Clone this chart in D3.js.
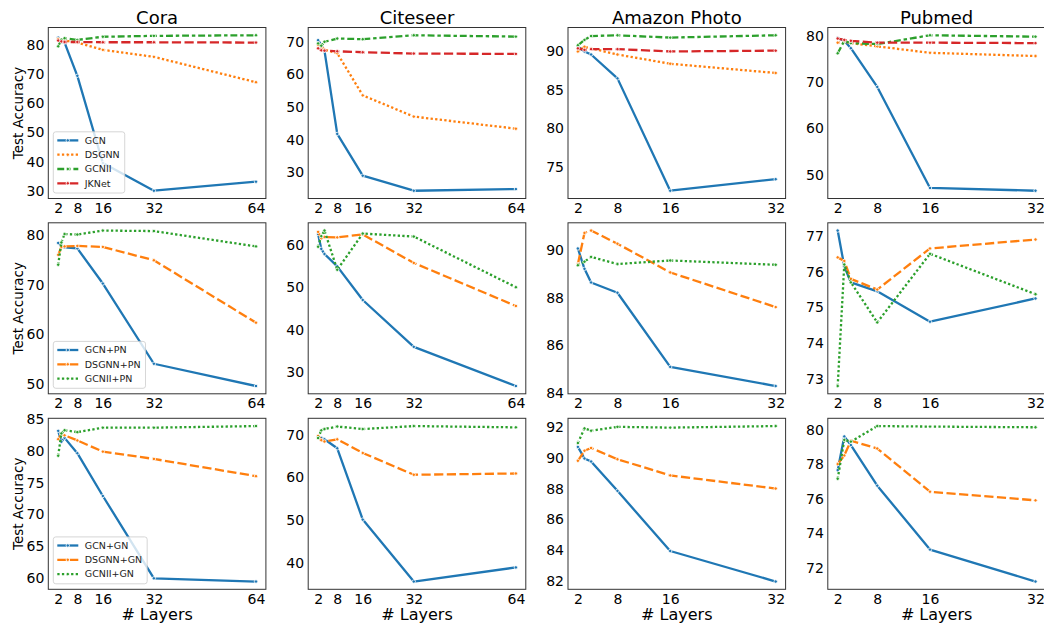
<!DOCTYPE html>
<html>
<head>
<meta charset="utf-8">
<script src="https://cdn.jsdelivr.net/npm/d3@7"></script>
<style>
  body { margin: 0; background: #fff; }
  svg { display: block; }
</style>
</head>
<body>
<svg id="chart" width="1044" height="623"></svg>
<script>
// x values (number of layers) and tick labels
const layersLong  = [2, 3, 4, 8, 16, 32, 64];
const layersShort = [2, 3, 4, 8, 16, 32];
const xTicksLong  = [2, 8, 16, 32, 64];
const xTicksShort = [2, 8, 16, 32];
const datasets = ['Cora', 'Citeseer', 'Amazon Photo', 'Pubmed'];

const baseNames = ['GCN', 'DSGNN', 'GCNII', 'JKNet'];
const pnNames   = ['GCN+PN', 'DSGNN+PN', 'GCNII+PN'];
const gnNames   = ['GCN+GN', 'DSGNN+GN', 'GCNII+GN'];

// ── row 1: plain models ──
const coraGCN   = [82.5, 81.0, 80.8, 69.4, 39.5, 30.0, 33.1];
const coraDSGNN = [82.0, 81.8, 81.5, 80.8, 78.3, 75.9, 67.2];
const coraGCNII = [79.5, 81.8, 82.3, 81.7, 82.8, 83.1, 83.3];
const coraJKNet = [81.5, 81.2, 81.0, 81.0, 80.9, 80.9, 80.8];

const citeGCN   = [70.5, 69.0, 67.3, 41.8, 29.0, 24.4, 24.9];
const citeDSGNN = [69.0, 68.5, 67.6, 66.5, 53.6, 47.1, 43.4];
const citeGCNII = [69.5, 68.8, 70.0, 71.0, 70.8, 72.0, 71.6];
const citeJKNet = [68.0, 67.4, 67.3, 67.1, 66.8, 66.4, 66.3];

const photoGCN   = [90.6, 90.0, 89.6, 86.5, 71.9, 73.4];
const photoDSGNN = [90.0, 90.6, 90.4, 89.6, 88.4, 87.2];
const photoGCNII = [90.8, 91.5, 92.0, 92.1, 91.8, 92.1];
const photoJKNet = [90.4, 90.2, 90.3, 90.3, 90.0, 90.1];

const pubGCN   = [79.6, 79.0, 77.4, 69.0, 47.1, 46.5];
const pubDSGNN = [78.6, 78.8, 78.5, 77.8, 76.4, 75.7];
const pubGCNII = [76.3, 79.0, 78.5, 78.3, 80.2, 79.9];
const pubJKNet = [79.5, 79.2, 79.0, 78.6, 78.6, 78.5];

// ── row 2: + PairNorm ──
const coraGCNpn   = [78.4, 77.8, 77.5, 77.3, 70.2, 54.0, 49.5];
const coraDSGNNpn = [76.0, 77.6, 77.7, 77.8, 77.6, 74.9, 62.3];
const coraGCNIIpn = [74.0, 78.5, 80.2, 80.1, 80.9, 80.8, 77.7];

const citeGCNpn   = [62.5, 59.0, 57.8, 54.9, 47.0, 36.0, 26.8];
const citeDSGNNpn = [63.0, 61.5, 61.8, 61.7, 62.4, 55.7, 45.6];
const citeGCNIIpn = [59.5, 62.0, 63.3, 54.1, 62.6, 61.9, 50.0];

const photoGCNpn   = [90.05, 89.2, 88.63, 88.2, 85.1, 84.3];
const photoDSGNNpn = [89.4, 90.7, 90.8, 90.25, 89.05, 87.6];
const photoGCNIIpn = [89.35, 89.5, 89.7, 89.4, 89.55, 89.37];

const pubGCNpn   = [77.15, 76.15, 75.7, 75.45, 74.6, 75.25];
const pubDSGNNpn = [76.4, 76.3, 75.8, 75.5, 76.65, 76.9];
const pubGCNIIpn = [72.8, 76.2, 75.7, 74.58, 76.5, 75.37];

// ── row 3: + GroupNorm ──
const coraGCNgn   = [83.1, 81.4, 82.0, 79.6, 72.9, 60.0, 59.5];
const coraDSGNNgn = [81.8, 82.6, 82.4, 81.6, 79.85, 78.7, 76.0];
const coraGCNIIgn = [79.2, 82.7, 83.2, 82.9, 83.6, 83.6, 83.85];

const citeGCNgn   = [69.5, 69.2, 68.9, 66.8, 50.1, 35.6, 38.9];
const citeDSGNNgn = [69.7, 68.7, 68.4, 68.9, 65.7, 60.6, 60.9];
const citeGCNIIgn = [69.2, 71.0, 71.3, 71.9, 71.3, 72.0, 71.7];

const photoGCNgn   = [90.7, 89.95, 89.75, 87.85, 83.95, 81.97];
const photoDSGNNgn = [89.8, 90.45, 90.63, 89.9, 88.85, 88.0];
const photoGCNIIgn = [90.95, 91.9, 91.75, 92.0, 91.95, 92.05];

const pubGCNgn   = [77.65, 79.6, 79.1, 76.75, 73.05, 71.2];
const pubDSGNNgn = [78.0, 78.5, 79.35, 78.9, 76.4, 75.9];
const pubGCNIIgn = [77.15, 79.4, 79.3, 80.2, 80.17, 80.13];

// y tick labels per panel
const yTicks = [
  [[30, 40, 50, 60, 70, 80], [30, 40, 50, 60, 70], [75, 80, 85, 90], [50, 60, 70, 80]],
  [[50, 60, 70, 80], [30, 40, 50, 60], [84, 86, 88, 90], [73, 74, 75, 76, 77]],
  [[60, 65, 70, 75, 80, 85], [40, 50, 60, 70], [82, 84, 86, 88, 90, 92], [72, 74, 76, 78, 80]]
];

const BLUE = '#1f77b4', ORANGE = '#ff7f0e', GREEN = '#2ca02c', RED = '#d62728';
const LW = 2.3;
const DOT = `${LW},${LW}`;
const DASH = `${4 * LW},${1.5 * LW}`;
const DASHDOT = `${3 * LW},${1.25 * LW},${1.5 * LW},${1.25 * LW}`;

const baseStyles = [
  { color: BLUE, dash: null }, { color: ORANGE, dash: DOT },
  { color: GREEN, dash: DASHDOT }, { color: RED, dash: DASH }
];
const normStyles = [
  { color: BLUE, dash: null }, { color: ORANGE, dash: DASH }, { color: GREEN, dash: DOT }
];

const rows = [
  { names: baseNames, styles: baseStyles, series: [
    [coraGCN, coraDSGNN, coraGCNII, coraJKNet],
    [citeGCN, citeDSGNN, citeGCNII, citeJKNet],
    [photoGCN, photoDSGNN, photoGCNII, photoJKNet],
    [pubGCN, pubDSGNN, pubGCNII, pubJKNet]] },
  { names: pnNames, styles: normStyles, series: [
    [coraGCNpn, coraDSGNNpn, coraGCNIIpn],
    [citeGCNpn, citeDSGNNpn, citeGCNIIpn],
    [photoGCNpn, photoDSGNNpn, photoGCNIIpn],
    [pubGCNpn, pubDSGNNpn, pubGCNIIpn]] },
  { names: gnNames, styles: normStyles, series: [
    [coraGCNgn, coraDSGNNgn, coraGCNIIgn],
    [citeGCNgn, citeDSGNNgn, citeGCNIIgn],
    [photoGCNgn, photoDSGNNgn, photoGCNIIgn],
    [pubGCNgn, pubDSGNNgn, pubGCNIIgn]] }
];

const FONT = '"DejaVu Sans", sans-serif';
const colLeft = [48.3, 308.2, 568.0, 827.8];
const rowTop  = [27.5, 222.8, 418.3];
const W = 217.6, H = 171;

const svg = d3.select('#chart');

rows.forEach((row, r) => {
  datasets.forEach((name, c) => {
    const xs = c < 2 ? layersLong : layersShort;
    const xTicks = c < 2 ? xTicksLong : xTicksShort;
    const x0 = xs[0], x1 = xs[xs.length - 1];
    const xPad = (x1 - x0) * 0.05;
    const xScale = d3.scaleLinear().domain([x0 - xPad, x1 + xPad]).range([0, W]);

    const all = row.series[c].flat();
    const lo = d3.min(all), hi = d3.max(all), yPad = (hi - lo) * 0.05;
    const yScale = d3.scaleLinear().domain([lo - yPad, hi + yPad]).range([H, 0]);

    const g = svg.append('g').attr('transform', `translate(${colLeft[c]},${rowTop[r]})`);

    // lines + small markers
    row.series[c].forEach((vals, i) => {
      const st = row.styles[i];
      const pts = xs.map((xv, k) => ({ x: xv, y: vals[k] }));
      g.append('path').datum(pts)
        .attr('fill', 'none').attr('stroke', st.color).attr('stroke-width', LW)
        .attr('stroke-dasharray', st.dash).attr('stroke-linejoin', 'round')
        .attr('d', d3.line().x(d => xScale(d.x)).y(d => yScale(d.y)));
      g.selectAll(null).data(pts).enter().append('circle')
        .attr('cx', d => xScale(d.x)).attr('cy', d => yScale(d.y)).attr('r', 1.7)
        .attr('fill', st.color).attr('stroke', '#fff').attr('stroke-width', 0.8);
    });

    // axes (no tick marks, labels only)
    const xa = g.append('g').attr('transform', `translate(0,${H})`)
      .call(d3.axisBottom(xScale).tickValues(xTicks).tickFormat(d3.format('d')).tickSize(0).tickPadding(4.5));
    const ya = g.append('g')
      .call(d3.axisLeft(yScale).tickValues(yTicks[r][c]).tickFormat(d3.format('d')).tickSize(0).tickPadding(4));
    [xa, ya].forEach(a => {
      a.select('.domain').remove();
      a.selectAll('text').attr('font-family', FONT).attr('font-size', '14px').attr('fill', '#000');
    });

    // frame
    g.append('rect').attr('width', W).attr('height', H)
      .attr('fill', 'none').attr('stroke', '#333').attr('stroke-width', 1);

    if (r === 0) {
      g.append('text').attr('x', W / 2).attr('y', -4)
        .attr('text-anchor', 'middle').attr('font-family', FONT).attr('font-size', '18px')
        .attr('fill', '#000').text(name);
    }
    if (r === 2) {
      g.append('text').attr('x', W / 2).attr('y', H + 31)
        .attr('text-anchor', 'middle').attr('font-family', FONT).attr('font-size', '16px')
        .attr('fill', '#000').text('# Layers');
    }
    if (c === 0) {
      g.append('text').attr('transform', 'rotate(-90)')
        .attr('x', -H / 2).attr('y', -25.5)
        .attr('text-anchor', 'middle').attr('font-family', FONT).attr('font-size', '13.5px')
        .attr('fill', '#000').text('Test Accuracy');

      // legend
      const n = row.names.length, rowH = 14.3;
      const lg = g.append('g');
      const box = lg.append('rect');
      const boxH = n * rowH + 4;
      const by = H - 5.5 - boxH;
      let maxW = 0;
      row.names.forEach((nm, i) => {
        const cy = by + 8.6 + i * rowH;
        const st = row.styles[i];
        lg.append('line').attr('x1', 9).attr('x2', 30).attr('y1', cy).attr('y2', cy)
          .attr('stroke', st.color).attr('stroke-width', LW).attr('stroke-dasharray', st.dash);
        lg.append('circle').attr('cx', 19.5).attr('cy', cy).attr('r', 1.7)
          .attr('fill', st.color).attr('stroke', '#fff').attr('stroke-width', 0.8);
        const t = lg.append('text').attr('x', 36.5).attr('y', cy).attr('dy', '0.35em')
          .attr('font-family', FONT).attr('font-size', '9.5px').attr('fill', '#222').text(nm);
        maxW = Math.max(maxW, t.node().getComputedTextLength());
      });
      box.attr('x', 5).attr('y', by).attr('width', 36.5 + maxW).attr('height', boxH)
        .attr('rx', 2.5).attr('fill', 'rgba(255,255,255,0.8)').attr('stroke', '#ccc').attr('stroke-width', 0.8);
    }
  });
});
</script>
</body>
</html>
